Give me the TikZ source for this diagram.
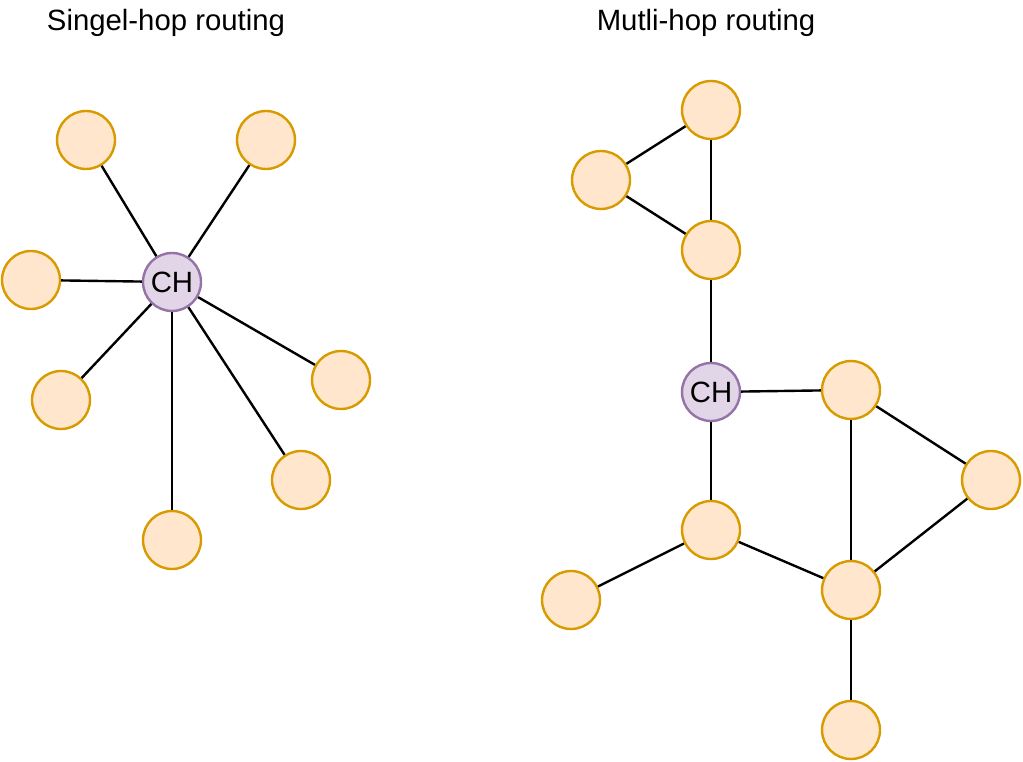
\documentclass[tikz,border=0pt]{standalone}
\usepackage{fontspec}
\setmainfont{Liberation Sans}
\begin{document}
\begin{tikzpicture}[x=0.75pt,y=-0.75pt,
  nd/.style={circle,draw={rgb,255:red,215;green,155;blue,0},fill={rgb,255:red,255;green,230;blue,204},line width=1.8pt,minimum size=43.5pt,inner sep=0pt},
  ch/.style={nd,draw={rgb,255:red,150;green,115;blue,166},fill={rgb,255:red,225;green,213;blue,231},font=\fontsize{22}{26}\selectfont},
  ttl/.style={font=\fontsize{22}{26}\selectfont},
  ln/.style={line width=1.8pt}]
\useasboundingbox (0,0) rectangle (1023,762);
\node[ttl] (t1) at (166,23) {Singel-hop routing};
\node[ttl] (t2) at (706,23) {Mutli-hop routing};
% left
\node[ch] (ch1) at (172,282) {CH};
\node[nd] (n1) at (86,140) {};
\node[nd] (n2) at (266,140) {};
\node[nd] (n3) at (31,280) {};
\node[nd] (n4) at (61,400) {};
\node[nd] (n5) at (341,380) {};
\node[nd] (n6) at (301,480) {};
\node[nd] (n7) at (172,540) {};
\foreach \n in {n1,n2,n3,n4,n5,n6,n7} \draw[ln] (ch1) -- (\n);
% right
\node[nd] (a) at (711,110) {};
\node[nd] (b) at (601,180) {};
\node[nd] (c) at (711,250) {};
\node[ch] (ch2) at (711,392) {CH};
\node[nd] (d) at (851,390) {};
\node[nd] (e) at (991,480) {};
\node[nd] (f) at (711,530) {};
\node[nd] (g) at (571,600) {};
\node[nd] (h) at (851,590) {};
\node[nd] (i) at (851,730) {};
\draw[ln] (a) -- (b);
\draw[ln] (b) -- (c);
\draw[ln] (a) -- (c);
\draw[ln] (c) -- (ch2);
\draw[ln] (ch2) -- (d);
\draw[ln] (ch2) -- (f);
\draw[ln] (d) -- (e);
\draw[ln] (d) -- (h);
\draw[ln] (e) -- (h);
\draw[ln] (f) -- (h);
\draw[ln] (f) -- (g);
\draw[ln] (h) -- (i);
\end{tikzpicture}
\end{document}
